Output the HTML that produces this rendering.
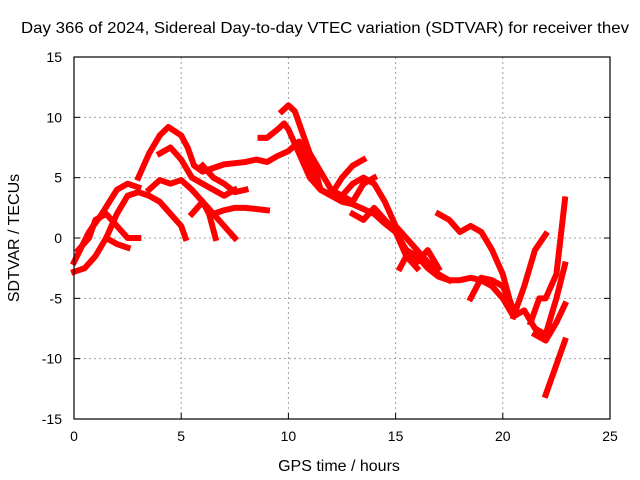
<!DOCTYPE html>
<html><head><meta charset="utf-8"><style>
body{margin:0;background:#fff}
svg{display:block;font-family:"Liberation Sans",sans-serif}
</style></head><body>
<svg id="chart" width="640" height="480">
<rect width="640" height="480" fill="#fff"/>
<g id="grid"></g>
<g id="series"></g>
<rect x="74" y="57" width="536" height="362" fill="none" stroke="#000" stroke-width="1.2"/>
<g id="ticks"></g>
<text x="21" y="33" font-size="16" textLength="608" lengthAdjust="spacingAndGlyphs">Day 366 of 2024, Sidereal Day-to-day VTEC variation (SDTVAR) for receiver thev</text>
<text x="339" y="471" font-size="16" text-anchor="middle">GPS time / hours</text>
<text x="19" y="238" font-size="16" text-anchor="middle" transform="rotate(-90 19 238)">SDTVAR / TECUs</text>
</svg>
<script>
const xTicks=[0,5,10,15,20,25];
const yTicks=[-15,-10,-5,0,5,10,15];
const tracks=[
[[0,-2],[0.7,0.5],[1.3,2],[2,4],[2.5,4.5],[3,4.2]],
[[3,5],[3.5,7],[4,8.5],[4.4,9.2],[5,8.5],[5.3,7.5],[5.6,6],[6,5.5],[6.5,5.8],[7,6.1],[7.5,6.2],[8,6.3],[8.5,6.5],[9,6.3],[9.5,6.8],[10,7.2],[10.5,8],[11,6],[11.5,4],[12,3.5],[12.5,3],[13,2.8],[14,2],[14.5,1.2],[15,0.5],[15.5,-1.5],[16,-2.5]],
[[4,7],[4.5,7.5],[5,6.5],[5.5,5],[6,4.5],[7,3.5],[7.5,4]],
[[1.5,0],[2,2],[2.5,3.5],[3,3.8],[3.5,3.5],[4,3],[4.5,2],[5,1],[5.2,0]],
[[3.5,4],[4,4.8],[4.5,4.5],[5,4.8],[5.5,4],[6,3],[6.3,2],[6.6,0]],
[[0.2,-1],[0.7,0],[1,1.5],[1.5,2],[2,1],[2.5,0],[3,0]],
[[0,-2.8],[0.5,-2.5],[1,-1.5],[1.5,0],[2,-0.5],[2.5,-0.8]],
[[5.5,2],[6,3],[6.5,2],[7,1],[7.5,0]],
[[6.5,2],[7,2.3],[7.5,2.5],[8,2.5],[8.5,2.4],[9,2.3]],
[[6,6],[6.5,5],[7,4.5],[7.5,3.8],[8,4]],
[[8.7,8.3],[9,8.3],[9.5,9],[9.8,9.5],[10,9],[10.5,7],[11,5],[11.5,4],[12,3.5],[12.5,3.5],[13,3],[13.5,4.5],[14,5]],
[[9.7,10.5],[10,11],[10.3,10.5],[10.8,8],[11.2,6],[11.5,4],[12,3.6],[12.5,5],[13,6],[13.5,6.5]],
[[11,7],[11.5,5.5],[12,4],[12.5,3.5],[13,4.5],[13.5,5],[14,4.5],[14.5,3],[15,1],[15.5,0],[16,-1],[16.5,-2],[17,-3],[17.5,-3.5]],
[[13,2],[13.5,1.5],[14,2.5],[14.5,1.5],[15,0.5],[15.5,-1],[16,-1.5],[16.5,-2.5],[17,-3.2],[17.5,-3.5],[18,-3.5],[18.5,-3.3],[19,-3.5],[19.5,-4],[20,-5],[20.5,-6.5],[21,-6],[21.5,-7.5],[22,-8]],
[[17,2],[17.5,1.5],[18,0.5],[18.5,1],[19,0.5],[19.5,-1],[20,-3],[20.3,-5],[20.5,-6]],
[[20.5,-6.5],[21,-4],[21.5,-1],[22,0.3]],
[[21.3,-7],[21.7,-5],[22,-5],[22.5,-3],[22.9,3.2]],
[[22,-8],[22.5,-5],[22.9,-2.2]],
[[22,-13],[22.4,-11],[22.9,-8.5]],
[[21.5,-8],[22,-8.5],[22.5,-7],[22.9,-5.5]],
[[15.2,-2.5],[15.5,-1.5],[16,-2],[16.5,-1],[17,-2.5]],
[[18.5,-5],[19,-3.3],[19.5,-3.5],[20,-4],[20.5,-6]]
];
const NS='http://www.w3.org/2000/svg';
const X0=74,X1=610,Y0=419,Y1=57;
function sx(v){return X0+(v-0)/25*(X1-X0);}
function sy(v){return Y0-(v+15)/30*(Y0-Y1);}
const grid=document.getElementById('grid'),ticks=document.getElementById('ticks'),ser=document.getElementById('series');
function mk(tag,at,par){const e=document.createElementNS(NS,tag);for(const k in at)e.setAttribute(k,at[k]);par.appendChild(e);return e;}
xTicks.forEach(t=>{
 const x=sx(t);
 if(t>0&&t<25){const g=mk('line',{x1:x,x2:x,y1:Y1,y2:Y0,stroke:'#a0a0a0','stroke-dasharray':'2,3'},grid);
 
 }
 const a=mk('line',{x1:x,x2:x,y1:Y0,y2:Y0-6,stroke:'#000'},ticks);
 
 
 const l=mk('text',{x:x,y:Y0+22,'font-size':14,'text-anchor':'middle'},ticks);l.textContent=t;
 
 
});
yTicks.forEach(t=>{
 const y=sy(t);
 if(t>-15&&t<15){const g=mk('line',{x1:X0,x2:X1,y1:y,y2:y,stroke:'#a0a0a0','stroke-dasharray':'2,3'},grid);
 
 }
 const a=mk('line',{x1:X0,x2:X0+6,y1:y,y2:y,stroke:'#000'},ticks);
 
 
 const b=mk('line',{x1:X1,x2:X1-6,y1:y,y2:y,stroke:'#000'},ticks);
 
 
 const l=mk('text',{x:X0-12,y:y+5,'font-size':14,'text-anchor':'end'},ticks);l.textContent=t;
 
 
});
tracks.forEach(tr=>{
 const p=mk('polyline',{points:tr.map(d=>sx(d[0])+','+sy(d[1])).join(' '),fill:'none',stroke:'#ff0000','stroke-width':6,'stroke-linejoin':'round','stroke-linecap':'square'},ser);
 
 
});
</script>
</body></html>
